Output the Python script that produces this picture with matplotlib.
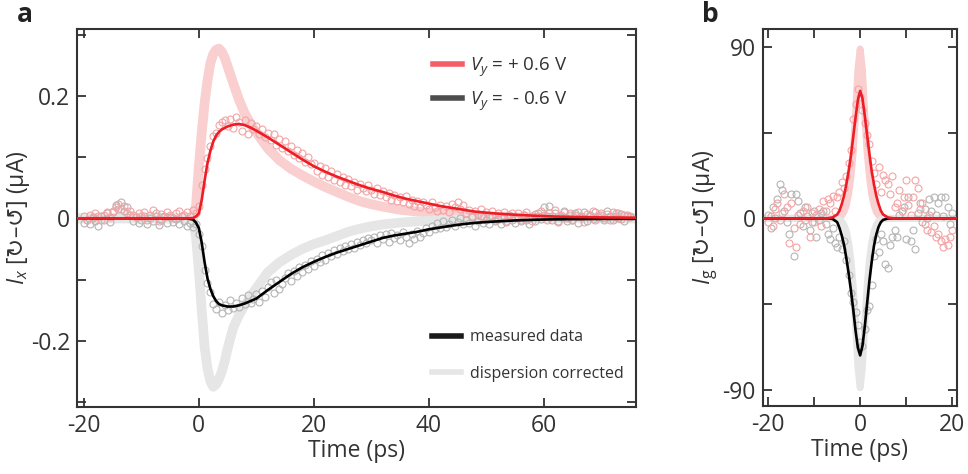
import numpy as np
import matplotlib
matplotlib.use("Agg")
import matplotlib.pyplot as plt
from matplotlib.lines import Line2D

plt.rcParams['font.family'] = ['Open Sans', 'DejaVu Sans']
plt.rcParams['mathtext.fontset'] = 'custom'
plt.rcParams['mathtext.rm'] = 'Open Sans'
plt.rcParams['mathtext.it'] = 'Open Sans:italic'
plt.rcParams['mathtext.sf'] = 'DejaVu Sans'
plt.rcParams['font.size'] = 15

# ---------------- Panel a data ----------------
t_a_fit = [-21, -2, -1, -0.5, 0, 0.5, 1, 1.5, 2, 2.5, 3, 3.5, 4, 5, 6, 7, 8, 9, 10,
           12, 14, 16, 18, 20, 22, 24, 26, 28, 30, 32, 34, 36, 38, 40, 42, 44, 46,
           48, 50, 52, 55, 58, 60, 62, 65, 70, 76]
pos_fit_a = [0, 0, 0.0005, 0.003, 0.008, 0.030, 0.062, 0.090, 0.110, 0.125, 0.135,
             0.141, 0.145, 0.150, 0.153, 0.154, 0.152, 0.148, 0.143, 0.132, 0.120,
             0.108, 0.096, 0.085, 0.076, 0.068, 0.061, 0.054, 0.048, 0.043, 0.037,
             0.032, 0.028, 0.024, 0.020, 0.017, 0.014, 0.011, 0.0092, 0.0076, 0.0058,
             0.0044, 0.0036, 0.0029, 0.0022, 0.0015, 0.0010]
neg_fit_a = [0, 0, -0.002, -0.007, -0.016, -0.040, -0.072, -0.098, -0.115, -0.127,
             -0.135, -0.140, -0.142, -0.144, -0.144, -0.142, -0.139, -0.135, -0.131,
             -0.117, -0.104, -0.091, -0.080, -0.071, -0.063, -0.056, -0.050, -0.044,
             -0.038, -0.032, -0.028, -0.025, -0.022, -0.018, -0.015, -0.012, -0.0095,
             -0.0075, -0.006, -0.005, -0.0035, -0.0025, -0.002, -0.0017, -0.0014,
             -0.001, -0.0008]

t_a_corr = [-21, -1.5, -1, -0.5, 0, 0.5, 1, 1.5, 2, 2.5, 3, 3.5, 4, 4.5, 5, 5.5, 6,
            7, 8, 9, 10, 12, 14, 16, 18, 20, 22, 24, 26, 28, 30, 32, 35, 38, 42, 46,
            50, 55, 65, 76]
pos_corr_a = [0, 0, 0.001, 0.020, 0.085, 0.140, 0.188, 0.225, 0.253, 0.268, 0.275,
              0.277, 0.272, 0.262, 0.248, 0.234, 0.220, 0.193, 0.171, 0.154, 0.140,
              0.114, 0.095, 0.081, 0.070, 0.060, 0.051, 0.043, 0.035, 0.028, 0.023,
              0.019, 0.014, 0.011, 0.007, 0.0045, 0.003, 0.0015, 0.0005, 0]
neg_corr_a = [0, 0, -0.005, -0.030, -0.085, -0.150, -0.210, -0.245, -0.266, -0.275,
              -0.271, -0.262, -0.250, -0.233, -0.213, -0.195, -0.178, -0.158, -0.141,
              -0.127, -0.114, -0.088, -0.072, -0.060, -0.050, -0.042, -0.036, -0.029,
              -0.022, -0.017, -0.013, -0.010, -0.007, -0.005, -0.003, -0.002, -0.001,
              -0.0005, 0, 0]

t_a_data = np.arange(-20, 75.01, 0.5)
pos_data_a = [
    0.004, -0.002, 0.006, 0.001, 0.008, 0.003, -0.003, 0.005, 0.010, 0.002,
    0.012, 0.018, 0.024, 0.015, 0.020, 0.008, 0.012, 0.005, 0.002, 0.009,
    0.004, 0.011, -0.002, 0.006, 0.013, 0.003, -0.004, 0.007, 0.002, 0.010,
    0.005, 0.001, 0.008, 0.012, 0.003, 0.006, 0.010, 0.004, 0.014, 0.008,
    0.020, 0.055, 0.080, 0.098, 0.118, 0.135, 0.140, 0.152, 0.158, 0.160,
    0.150, 0.162, 0.148, 0.165, 0.157, 0.142, 0.160, 0.138, 0.155, 0.145,
    0.150, 0.138, 0.146, 0.132, 0.140, 0.128, 0.137, 0.120, 0.130, 0.115,
    0.126, 0.110, 0.118, 0.104, 0.112, 0.098, 0.106, 0.092, 0.100, 0.088,
    0.090, 0.078, 0.086, 0.070, 0.082, 0.068, 0.078, 0.062, 0.072, 0.060,
    0.068, 0.055, 0.064, 0.052, 0.060, 0.047, 0.056, 0.050, 0.044, 0.054,
    0.046, 0.040, 0.050, 0.038, 0.045, 0.034, 0.042, 0.030, 0.038, 0.028,
    0.034, 0.026, 0.036, 0.024, 0.030, 0.020, 0.028, 0.018, 0.026, 0.022,
    0.016, 0.026, 0.018, 0.012, 0.022, 0.014, 0.020, 0.010, 0.024, 0.018,
    0.027, 0.015, 0.022, 0.008, 0.014, 0.004, 0.012, 0.006, 0.016, 0.002,
    0.010, 0.004, 0.012, -0.002, 0.008, 0.003, 0.011, -0.004, 0.006, 0.009,
    0.002, 0.008, -0.003, 0.006, 0.010, 0.001, -0.005, 0.007, 0.003, 0.012,
    0.005, -0.002, 0.009, 0.003, 0.013, -0.004, 0.006, 0.010, 0.001, 0.008,
    -0.003, 0.005, 0.011, 0.002, -0.006, 0.007, 0.003, 0.012, -0.002, 0.006,
    0.009, 0.001, 0.007, -0.003, 0.010, 0.004, 0.008, -0.001, 0.006, 0.003,
    0.004]
neg_data_a = [
    -0.008, -0.003, -0.010, 0.002, -0.005, -0.012, 0.004, -0.002, 0.008, -0.006,
    0.010, 0.022, 0.015, 0.026, 0.012, 0.018, 0.006, -0.004, 0.002, -0.008,
    -0.003, 0.004, -0.009, 0.001, -0.005, 0.008, -0.011, -0.002, 0.003, -0.007,
    0.002, -0.006, -0.001, -0.010, 0.003, -0.004, -0.012, -0.008, -0.015, -0.010,
    -0.025, -0.045, -0.085, -0.105, -0.120, -0.140, -0.148, -0.136, -0.155, -0.142,
    -0.150, -0.134, -0.146, -0.138, -0.144, -0.130, -0.140, -0.126, -0.138, -0.132,
    -0.124, -0.136, -0.118, -0.128, -0.112, -0.104, -0.122, -0.100, -0.115, -0.108,
    -0.098, -0.090, -0.102, -0.086, -0.094, -0.080, -0.088, -0.076, -0.082, -0.070,
    -0.078, -0.066, -0.072, -0.060, -0.068, -0.056, -0.062, -0.052, -0.058, -0.048,
    -0.054, -0.046, -0.050, -0.042, -0.048, -0.038, -0.044, -0.036, -0.040, -0.032,
    -0.036, -0.030, -0.040, -0.028, -0.034, -0.026, -0.038, -0.024, -0.032, -0.028,
    -0.036, -0.022, -0.030, -0.040, -0.026, -0.034, -0.020, -0.030, -0.024, -0.016,
    -0.022, -0.012, -0.018, -0.008, -0.016, -0.004, -0.014, -0.010, -0.002, -0.012,
    -0.006, 0.001, -0.010, -0.003, -0.008, 0.002, -0.012, -0.004, 0.003, -0.007,
    -0.002, -0.009, 0.004, -0.005, -0.001, -0.010, 0.002, -0.006, 0.005, -0.003,
    -0.008, 0.001, -0.004, 0.006, -0.002, -0.009, 0.003, -0.005, 0.008, -0.001,
    0.018, 0.004, 0.020, -0.003, 0.008, -0.006, 0.002, 0.012, -0.004, 0.006,
    -0.002, 0.009, -0.007, 0.003, 0.010, -0.004, 0.005, -0.001, 0.011, 0.002,
    0.006, -0.003, 0.012, 0.004, -0.002, 0.008, 0.001, 0.007, -0.004, 0.005,
    0.002]

# ---------------- Panel b data ----------------
t_b_fit = [-22, -8, -7, -6, -5, -4.5, -4, -3.5, -3, -2.5, -2, -1.5, -1, -0.5, 0, 0.5,
           1, 1.5, 2, 2.5, 3, 3.5, 4, 4.5, 5, 6, 7, 8, 22]
pos_fit_b = [0, 0, 0.1, 0.5, 2, 4, 7.5, 12, 18, 25, 33, 43, 53, 62, 67, 63, 54, 44,
             34, 25, 18, 12, 7.5, 4, 2, 0.5, 0.1, 0, 0]
neg_fit_b = [0, 0, 0, -0.3, -2, -5, -9, -14, -21, -29, -38, -48, -59, -68, -72, -67,
             -57, -45, -33, -23, -14.5, -8.5, -4.5, -2, -0.8, -0.1, 0, 0, 0]
pos_corr_b = [0, 0, 0, 0, 0.3, 0.8, 1.6, 3.5, 7, 13, 22, 35, 55, 78, 89, 78, 55, 35,
              22, 13, 7, 3.5, 1.6, 0.8, 0.3, 0, 0, 0, 0]
neg_corr_b = [0, 0, 0, 0, -0.3, -0.8, -1.6, -3.5, -7, -13, -22, -36, -56, -78, -89,
              -78, -56, -36, -22, -13, -7, -3.5, -1.6, -0.8, -0.3, 0, 0, 0, 0]

t_b_data = np.arange(-20, 20.01, 0.5)
pos_data_b = [
    -2, 1, -4, 5, 8, -1, 3, 13, 6, -13,
    8, -5, -15, 2, -3, 4, -1, 6, -10, 3,
    -2, 2, 5, -4, 9, 4, 10, 8, 12, 4,
    11, 14, 19, 16, 22, 29, 36, 52, 60, 68,
    64, 57, 50, 44, 39, 30, 24, 18, 27, 14,
    23, 20, 18, 13, 22, 6, 8, 15, 4, 11,
    20, 7, 2, 11, 20, 16, 5, 8, -3, -6,
    2, -7, -4, -10, -8, -12, -15, -11, -14, -10,
    -6]
neg_data_b = [
    2, -5, 6, 0, 10, 18, 15, 4, -2, -8,
    13, -20, 13, 9, 3, -4, 6, 1, -6, -2,
    4, -10, -1, 3, 4, -3, -8, -11, -5, -13,
    -15, -10, -16, -12, -22, -30, -39, -44, -49, -56,
    -65, -67, -58, -48, -46, -35, -20, -11, -17.5, -8,
    -12, -24, -26, -14, -10, -6, -10, 2, 4, 6,
    -11, 11, -12, -6, -16, 3, 8, -2, 5, 0,
    10, 4, 11, 2, 8, 11, 1, 11, 6, -3,
    3]

# ---------------- styling ----------------
RED = '#ee1c24'
PINK = '#f9cfd0'
RED_PT = '#f4a3a5'
GRAY_CORR = '#e6e6e6'
GRAY_PT = '#b5b5b5'
SPINE = '#333333'
TXT = '#333333'
FS = 16.5
ARROWS = r'[$\mathsf{↻}$–$\mathsf{↺}$]'

fig = plt.figure(figsize=(9.68, 4.74), dpi=100)
ax = fig.add_axes([77/968, 1-407/474, (636-77)/968, (407-29)/474])
bx = fig.add_axes([762.7/968, 1-406/474, (956.7-762.7)/968, (406-29)/474])

def style(a):
    for s in a.spines.values():
        s.set_color(SPINE)
        s.set_linewidth(1.5)
    a.tick_params(direction='in', length=6.5, width=1.3, color=SPINE,
                  top=True, right=True, labelsize=FS, labelcolor=TXT, pad=5)

# Panel a
ax.plot(t_a_corr, pos_corr_a, color=PINK, lw=7, solid_capstyle='round', zorder=1)
ax.plot(t_a_corr, neg_corr_a, color=GRAY_CORR, lw=7, solid_capstyle='round', zorder=1)
ax.plot(t_a_data, neg_data_a, 'o', mfc='none', mec=GRAY_PT, ms=5, mew=0.8, zorder=2)
ax.plot(t_a_data, pos_data_a, 'o', mfc='none', mec=RED_PT, ms=5, mew=0.8, zorder=2)
ax.plot(t_a_fit, neg_fit_a, color='black', lw=1.9, zorder=3)
ax.plot(t_a_fit, pos_fit_a, color=RED, lw=1.9, zorder=3)
ax.set_xlim(-21.2, 76.05)
ax.set_ylim(-0.308, 0.309)
ax.set_xticks([-20, 0, 20, 40, 60])
ax.set_xticklabels(['-20', '0', '20', '40', '60'])
ax.set_yticks([-0.3, -0.2, -0.1, 0, 0.1, 0.2, 0.3])
ax.set_yticklabels(['', '-0.2', '', '0', '', '0.2', ''])
style(ax)
ax.set_xlabel('Time (ps)', fontsize=FS, color=TXT, labelpad=1)
ax.set_ylabel('$I_x$ ' + ARROWS + ' (μA)', fontsize=FS, color=TXT)
ax.yaxis.set_label_coords(-0.080, 0.5)

h1 = [Line2D([], [], color='#f06066', lw=4), Line2D([], [], color='#4d4d4d', lw=4)]
leg1 = ax.legend(h1, ['$V_y$ = + 0.6 V', '$V_y$ =  - 0.6 V'], loc='upper left',
                 bbox_to_anchor=(0.62, 0.955), frameon=False, fontsize=13.5,
                 handlelength=1.55, handletextpad=0.45, labelspacing=0.6,
                 borderpad=0, labelcolor=TXT)
ax.add_artist(leg1)
h2 = [Line2D([], [], color='#1a1a1a', lw=4), Line2D([], [], color=GRAY_CORR, lw=4)]
ax.legend(h2, ['measured data', 'dispersion corrected'], loc='lower left',
          bbox_to_anchor=(0.62, 0.045), frameon=False, fontsize=11.5,
          handlelength=1.85, handletextpad=0.55, labelspacing=1.3,
          borderpad=0, labelcolor=TXT)

# Panel b
bx.plot(t_b_fit, pos_corr_b, color=PINK, lw=5, solid_capstyle='round', zorder=1)
bx.plot(t_b_fit, neg_corr_b, color=GRAY_CORR, lw=5, solid_capstyle='round', zorder=1)
bx.plot(t_b_data, neg_data_b, 'o', mfc='none', mec=GRAY_PT, ms=5, mew=0.8, zorder=2)
bx.plot(t_b_data, pos_data_b, 'o', mfc='none', mec=RED_PT, ms=5, mew=0.8, zorder=2)
bx.plot(t_b_fit, neg_fit_b, color='black', lw=1.9, zorder=3)
bx.plot(t_b_fit, pos_fit_b, color=RED, lw=1.9, zorder=3)
bx.set_xlim(-21.2, 21.0)
bx.set_ylim(-98.6, 99.5)
bx.set_xticks([-20, -10, 0, 10, 20])
bx.set_xticklabels(['-20', '', '0', '', '20'])
bx.set_yticks([-90, -45, 0, 45, 90])
bx.set_yticklabels(['-90', '', '0', '', '90'])
style(bx)
bx.set_xlabel('Time (ps)', fontsize=FS, color=TXT, labelpad=1)
bx.set_ylabel('$I_\\mathrm{g}$ ' + ARROWS + ' (μA)', fontsize=FS, color=TXT)
bx.yaxis.set_label_coords(-0.22, 0.5)

fig.text(25/968, 1-15/474, 'a', fontsize=19, fontweight='bold', ha='center', va='center', color='#222222')
fig.text(710/968, 1-15/474, 'b', fontsize=19, fontweight='bold', ha='center', va='center', color='#222222')

fig.savefig('out.png', dpi=100)
